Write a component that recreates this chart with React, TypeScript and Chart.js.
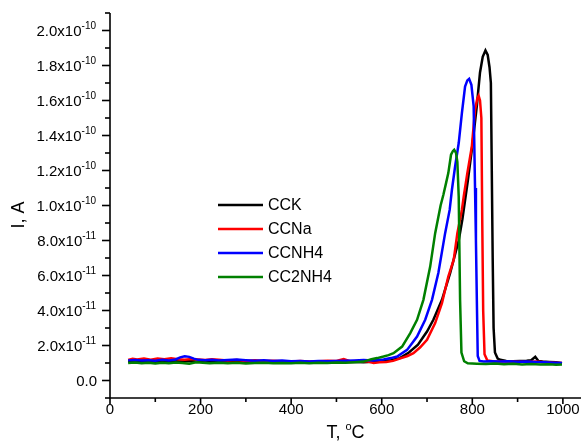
import { useEffect, useRef } from "react";
import { Chart, registerables } from "chart.js";

Chart.register(...registerables);

// Temperatures (°C) and currents (in units of 1e-10 A)
const CCK_T = [40,55,70,85,100,115,130,145,160,175,190,205,220,240,260,280,300,320,340,360,380,400,420,440,460,480,500,520,540,560,580,600,620,640,660,680,692,700,714,733,751,770,778,784,790,799,810,817,823,829,834,838,841,843,845,847,850,856,862,875,890,905,920,930,939,946,955,970,985,998];
const CCK_V = [0.108,0.110,0.106,0.109,0.107,0.111,0.108,0.110,0.109,0.112,0.108,0.110,0.107,0.109,0.108,0.106,0.109,0.107,0.108,0.105,0.107,0.106,0.108,0.105,0.107,0.104,0.102,0.106,0.105,0.104,0.107,0.110,0.116,0.128,0.160,0.205,0.250,0.280,0.347,0.461,0.614,0.800,0.920,1.030,1.140,1.320,1.570,1.760,1.850,1.886,1.860,1.790,1.700,1.200,0.700,0.300,0.160,0.125,0.118,0.112,0.110,0.112,0.113,0.116,0.135,0.112,0.108,0.106,0.104,0.098];

const CCNA_T = [40,50,60,75,90,105,120,135,150,165,180,195,210,225,240,260,280,300,320,340,360,380,400,420,440,460,480,500,516,530,550,570,582,595,610,625,643,657,670,685,700,718,733,747,759,767,777,781,789,799,806,811,814,817,820,822,824,827,833,845,860,880,900,920,940,960,980,998];
const CCNA_V = [0.118,0.124,0.120,0.126,0.119,0.125,0.122,0.127,0.121,0.118,0.123,0.120,0.117,0.121,0.118,0.114,0.117,0.112,0.115,0.111,0.113,0.110,0.109,0.112,0.108,0.110,0.113,0.111,0.122,0.110,0.112,0.108,0.100,0.104,0.106,0.112,0.128,0.140,0.156,0.190,0.233,0.328,0.442,0.594,0.690,0.842,0.975,1.050,1.185,1.337,1.547,1.610,1.627,1.600,1.500,0.900,0.400,0.150,0.115,0.110,0.108,0.109,0.107,0.106,0.108,0.104,0.102,0.100];

const CCNH4_T = [40,55,70,85,100,115,130,145,155,165,175,185,195,210,225,240,260,280,300,320,340,360,380,400,420,440,460,480,500,520,540,560,580,604,620,634,656,678,696,711,725,740,750,755,762,770,777,784,789,793,798,803,806,808,810,812,816,825,840,860,880,900,920,940,960,980,998];
const CCNH4_V = [0.115,0.117,0.114,0.116,0.113,0.118,0.115,0.120,0.132,0.138,0.135,0.125,0.118,0.116,0.119,0.115,0.117,0.120,0.116,0.113,0.115,0.112,0.114,0.110,0.112,0.109,0.111,0.110,0.112,0.113,0.115,0.117,0.114,0.120,0.128,0.137,0.175,0.251,0.347,0.461,0.614,0.842,0.975,1.090,1.223,1.357,1.528,1.680,1.715,1.724,1.690,1.566,1.100,0.800,0.460,0.140,0.112,0.109,0.110,0.108,0.110,0.107,0.108,0.106,0.104,0.102,0.100];

const CC2NH4_T = [40,55,70,85,100,115,130,145,160,175,190,205,220,240,260,280,300,320,340,360,380,400,420,440,460,480,500,520,540,560,577,590,604,615,626,645,663,678,692,707,718,730,736,742,747,753,757,760,764,767,770,773,776,782,790,810,830,850,870,890,910,930,950,970,985,998];
const CC2NH4_V = [0.100,0.103,0.098,0.102,0.097,0.101,0.099,0.103,0.100,0.096,0.104,0.101,0.098,0.102,0.099,0.101,0.097,0.100,0.102,0.098,0.100,0.099,0.101,0.098,0.102,0.100,0.103,0.101,0.104,0.108,0.122,0.128,0.137,0.145,0.156,0.194,0.271,0.347,0.461,0.651,0.842,1.000,1.060,1.128,1.185,1.290,1.310,1.318,1.300,1.250,1.050,0.460,0.160,0.110,0.098,0.096,0.094,0.097,0.093,0.095,0.092,0.094,0.091,0.093,0.090,0.092];

const SERIES_NAMES = ["CCK", "CCNa", "CCNH4", "CC2NH4"];
const SERIES_COLORS = ["#000000", "#ff0000", "#0000ff", "#008000"];
const SERIES_T = [CCK_T, CCNA_T, CCNH4_T, CC2NH4_T];
const SERIES_V = [CCK_V, CCNA_V, CCNH4_V, CC2NH4_V];

const X_TITLE_MAIN = "T, ";
const X_TITLE_SUP = "o";
const X_TITLE_END = "C";
const Y_TITLE = "I, A";

const FONT = '"Liberation Sans", Arial, Helvetica, sans-serif';

function yLabelParts(v: number): [string, string] {
  if (Math.abs(v) < 1e-9) return ["0.0", ""];
  if (v >= 1 - 1e-9) return [v.toFixed(1) + "x10", "-10"];
  return [(v * 10).toFixed(1) + "x10", "-11"];
}

const decorPlugin = {
  id: "decor",
  afterDatasetsDraw(chart: any) {
    const ctx = chart.ctx as CanvasRenderingContext2D;
    const { left, right, top, bottom } = chart.chartArea;
    const xs = chart.scales.x;
    const ys = chart.scales.y;
    ctx.save();
    ctx.strokeStyle = "#000";
    ctx.fillStyle = "#000";
    ctx.lineWidth = 1.6;
    ctx.beginPath();
    ctx.moveTo(left, top);
    ctx.lineTo(left, bottom);
    ctx.lineTo(right, bottom);
    ctx.stroke();

    // x ticks
    ctx.font = `15px ${FONT}`;
    ctx.textAlign = "center";
    ctx.textBaseline = "alphabetic";
    xs.ticks.forEach((t: any) => {
      const v = t.value;
      const px = xs.getPixelForValue(v);
      const major = Math.round(v) % 200 === 0;
      ctx.beginPath();
      ctx.moveTo(px, bottom);
      ctx.lineTo(px, bottom + (major ? 6 : 4));
      ctx.stroke();
      if (major) ctx.fillText(String(Math.round(v)), px, bottom + 16);
    });

    // y ticks
    ys.ticks.forEach((t: any) => {
      const v = t.value;
      const py = ys.getPixelForValue(v);
      const k = Math.round(v * 10);
      const major = k % 2 === 0;
      ctx.beginPath();
      ctx.moveTo(left, py);
      ctx.lineTo(left - (major ? 8 : 5), py);
      ctx.stroke();
      if (major) {
        const [base, sup] = yLabelParts(v);
        ctx.textAlign = "left";
        ctx.font = `15px ${FONT}`;
        const wb = ctx.measureText(base).width;
        ctx.font = `10px ${FONT}`;
        const ws = sup ? ctx.measureText(sup).width : 0;
        const rightEdge = sup ? 96 : 97;
        const x0 = rightEdge - wb - ws;
        ctx.font = `15px ${FONT}`;
        ctx.fillText(base, x0, py + 5.3);
        if (sup) {
          ctx.font = `10px ${FONT}`;
          ctx.fillText(sup, x0 + wb, py - 1.5);
        }
      }
    });

    // x title
    ctx.textAlign = "left";
    ctx.font = `18px ${FONT}`;
    const w1 = ctx.measureText(X_TITLE_MAIN).width;
    const w3 = ctx.measureText(X_TITLE_END).width;
    ctx.font = `11px ${FONT}`;
    const w2 = ctx.measureText(X_TITLE_SUP).width;
    const cx = (left + right) / 2;
    const tx = cx - (w1 + w2 + w3) / 2;
    const ty = 438;
    ctx.font = `18px ${FONT}`;
    ctx.fillText(X_TITLE_MAIN, tx, ty);
    ctx.font = `11px ${FONT}`;
    ctx.fillText(X_TITLE_SUP, tx + w1, ty - 8);
    ctx.font = `18px ${FONT}`;
    ctx.fillText(X_TITLE_END, tx + w1 + w2, ty);

    // y title
    ctx.save();
    ctx.translate(19, 215);
    ctx.rotate(-Math.PI / 2);
    ctx.textAlign = "center";
    ctx.textBaseline = "middle";
    ctx.font = `18px ${FONT}`;
    ctx.fillText(Y_TITLE, 0, 0);
    ctx.restore();

    // legend
    ctx.font = `16px ${FONT}`;
    ctx.textAlign = "left";
    ctx.textBaseline = "middle";
    chart.data.datasets.forEach((ds: any, i: number) => {
      const y = 205 + i * 24;
      ctx.strokeStyle = ds.borderColor;
      ctx.lineWidth = 2.5;
      ctx.beginPath();
      ctx.moveTo(218, y);
      ctx.lineTo(263, y);
      ctx.stroke();
      ctx.fillStyle = "#000";
      ctx.fillText(ds.label, 268, y + 1);
    });
    ctx.restore();
  },
};

export default function App() {
  const ref = useRef<HTMLCanvasElement | null>(null);
  useEffect(() => {
    if (!ref.current) return;
    const datasets = SERIES_NAMES.map((name, i) => ({
      label: name,
      data: SERIES_T[i].map((t, j) => ({ x: t, y: SERIES_V[i][j] })),
      borderColor: SERIES_COLORS[i],
      backgroundColor: SERIES_COLORS[i],
      borderWidth: 2.5,
      pointRadius: 0,
      tension: 0,
      fill: false,
      order: SERIES_NAMES.length - i,
    }));
    const chart = new Chart(ref.current, {
      type: "line",
      data: { datasets },
      options: {
        responsive: false,
        animation: false,
        devicePixelRatio: 1,
        layout: { padding: { left: 110, top: 13, right: 1, bottom: 44 } },
        plugins: { legend: { display: false }, tooltip: { enabled: false } },
        scales: {
          x: {
            type: "linear",
            min: 0,
            max: 1040,
            grid: { display: false, drawTicks: false, tickLength: 0 },
            border: { display: false },
            ticks: { display: false, stepSize: 100, includeBounds: false },
          },
          y: {
            type: "linear",
            min: -0.1,
            max: 2.1,
            grid: { display: false, drawTicks: false, tickLength: 0 },
            border: { display: false },
            ticks: { display: false, stepSize: 0.1, includeBounds: false },
          },
        },
      },
      plugins: [decorPlugin],
    });
    return () => chart.destroy();
  }, []);
  return (
    <div style={{ position: "fixed", left: 0, top: 0, width: 582, height: 442, background: "#fff" }}>
      <canvas ref={ref} width={582} height={442} style={{ display: "block" }} />
    </div>
  );
}
